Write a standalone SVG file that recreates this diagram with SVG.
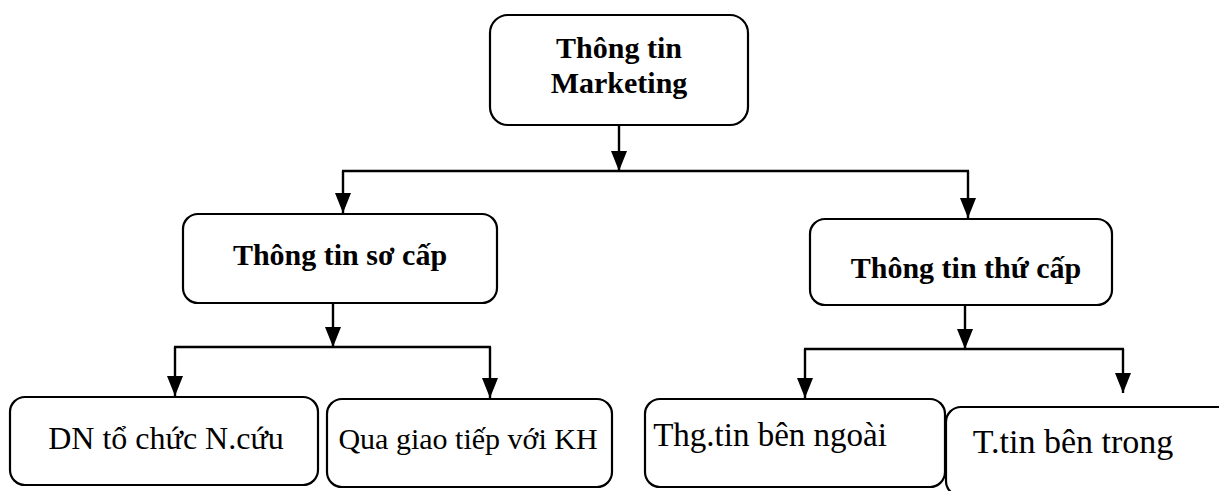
<svg xmlns="http://www.w3.org/2000/svg" width="1219" height="491" viewBox="0 0 1219 491">
  <style>
    .box { fill: #ffffff; stroke: #000000; stroke-width: 2.2; }
    .wire { fill: none; stroke: #000000; stroke-width: 2.4; }
    .title { font-family: "Liberation Serif", "Times New Roman", serif; font-weight: bold; font-size: 30px; fill: #000000; text-anchor: middle; }
    .label { font-family: "Liberation Serif", "Times New Roman", serif; font-size: 30px; fill: #000000; text-anchor: middle; }
  </style>
  <defs>
    <marker id="head" markerUnits="userSpaceOnUse" viewBox="0 0 20 16" markerWidth="20" markerHeight="16" refX="20" refY="8" orient="auto">
      <path d="M0,0 L20,8 L0,16 z" fill="#000000"/>
    </marker>
  </defs>
  <rect width="1219" height="491" fill="#ffffff"/>

  <!-- root -->
  <g id="node-marketing">
    <rect class="box" x="490" y="15" width="258" height="110" rx="18"/>
    <text class="title" x="619" y="58">Thông tin</text>
    <text class="title" x="619" y="93">Marketing</text>
  </g>

  <!-- second level -->
  <g id="node-so-cap">
    <rect class="box" x="183" y="214" width="314" height="89" rx="15"/>
    <text class="title" x="340" y="265">Thông tin sơ cấp</text>
  </g>
  <g id="node-thu-cap">
    <rect class="box" x="810" y="219" width="302" height="86" rx="15"/>
    <text class="title" x="966" y="278">Thông tin thứ cấp</text>
  </g>

  <!-- leaves -->
  <g id="node-dn">
    <rect class="box" x="10" y="397" width="308" height="88" rx="15"/>
    <text class="label" x="166" y="449" style="font-size:32px">DN tổ chức N.cứu</text>
  </g>
  <g id="node-kh">
    <rect class="box" x="327" y="399" width="285" height="88" rx="15"/>
    <text class="label" x="468" y="449" style="font-size:30px">Qua giao tiếp với KH</text>
  </g>
  <g id="node-ngoai">
    <rect class="box" x="645" y="399" width="300" height="88" rx="15"/>
    <text class="label" x="770" y="446" style="font-size:33px">Thg.tin bên ngoài</text>
  </g>
  <g id="node-trong">
    <rect class="box" x="946" y="407" width="290" height="89" rx="15"/>
    <text class="label" x="1073" y="453" style="font-size:34px">T.tin bên trong</text>
  </g>

  <!-- connectors -->
  <g id="connectors">
    <line class="wire" x1="619" y1="125" x2="619" y2="171" marker-end="url(#head)"/>
    <line class="wire" x1="342" y1="171" x2="969" y2="171"/>
    <line class="wire" x1="343" y1="171" x2="343" y2="213" marker-end="url(#head)"/>
    <line class="wire" x1="968" y1="171" x2="968" y2="218" marker-end="url(#head)"/>

    <line class="wire" x1="333" y1="303" x2="333" y2="347" marker-end="url(#head)"/>
    <line class="wire" x1="174" y1="347" x2="491" y2="347"/>
    <line class="wire" x1="175" y1="347" x2="175" y2="396" marker-end="url(#head)"/>
    <line class="wire" x1="490" y1="347" x2="490" y2="398" marker-end="url(#head)"/>

    <line class="wire" x1="965" y1="305" x2="965" y2="349" marker-end="url(#head)"/>
    <line class="wire" x1="804" y1="349" x2="1124" y2="349"/>
    <line class="wire" x1="805" y1="349" x2="805" y2="398" marker-end="url(#head)"/>
    <line class="wire" x1="1123" y1="349" x2="1123" y2="393" marker-end="url(#head)"/>
  </g>
</svg>
